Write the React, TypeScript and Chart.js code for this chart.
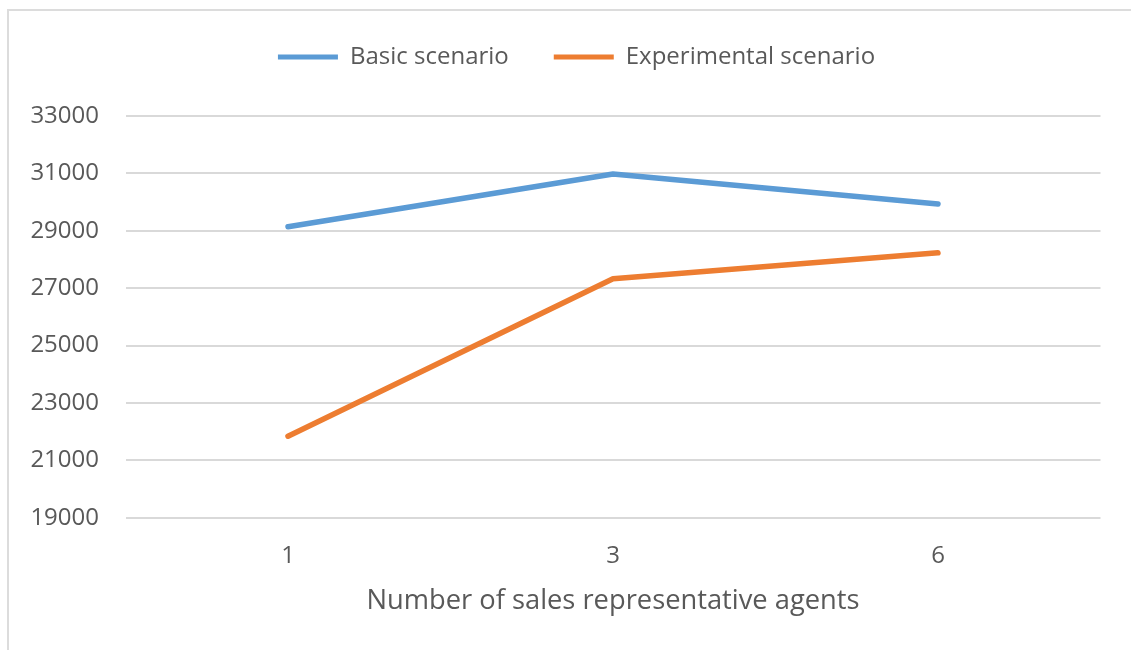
import React, { useEffect, useRef } from "react";
import { Chart, registerables } from "chart.js";

Chart.register(...registerables);

const categories = ["1", "3", "6"];
const basicScenario = [29140, 30980, 29930];
const experimentalScenario = [21840, 27330, 28230];
const yMin = 19000;
const yMax = 33000;
const yStep = 2000;
const xTitle = "Number of sales representative agents";
const seriesNames = ["Basic scenario", "Experimental scenario"];

const FONT = "'Open Sans', 'Noto Sans', sans-serif";
const TEXT = "#595959";

export default function App() {
  const ref = useRef<HTMLCanvasElement | null>(null);

  useEffect(() => {
    if (!ref.current) return;
    const chart = new Chart(ref.current, {
      type: "line",
      data: {
        labels: categories,
        datasets: [
          {
            label: seriesNames[0],
            data: basicScenario,
            borderColor: "#5B9BD5",
            backgroundColor: "#5B9BD5",
            borderWidth: 5.5,
            pointRadius: 0,
            borderCapStyle: "round",
            borderJoinStyle: "round",
            tension: 0,
          },
          {
            label: seriesNames[1],
            data: experimentalScenario,
            borderColor: "#ED7D31",
            backgroundColor: "#ED7D31",
            borderWidth: 5.5,
            pointRadius: 0,
            borderCapStyle: "round",
            borderJoinStyle: "round",
            tension: 0,
          },
        ],
      },
      options: {
        animation: false,
        responsive: false,
        maintainAspectRatio: false,
        layout: { padding: { left: 22, right: 0, top: 0, bottom: 0 } },
        plugins: {
          tooltip: { enabled: false },
          legend: {
            position: "top",
            labels: {
              boxWidth: 60,
              boxHeight: 5,
              padding: 45,
              color: TEXT,
              font: { family: FONT, size: 24 },
              generateLabels: (c: any) => {
                const items = Chart.defaults.plugins.legend.labels.generateLabels(c);
                return items.map((it: any) => ({
                  ...it,
                  lineWidth: 0,
                  fillStyle: it.strokeStyle,
                }));
              },
            },
          },
          subtitle: {
            display: true,
            text: "",
            position: "top",
            weight: 500,
            font: { size: 10, lineHeight: 1 },
            padding: { top: 0, bottom: 27 },
          },
          title: {
            display: true,
            text: "",
            position: "right",
            font: { size: 10, lineHeight: 1 },
            padding: { top: 20.5, bottom: 0 },
          },
        },
        scales: {
          x: {
            offset: true,
            grid: { display: false, drawTicks: false },
            border: { display: false },
            ticks: {
              color: TEXT,
              font: { family: FONT, size: 24 },
              padding: 24,
            },
            title: {
              display: true,
              text: xTitle,
              color: TEXT,
              font: { family: FONT, size: 27.3 },
              padding: { top: 0, bottom: 32.6 },
            },
            afterFit: (s: any) => {
              s.height = 132.3;
            },
          },
          y: {
            min: yMin,
            max: yMax,
            ticks: {
              stepSize: yStep,
              color: TEXT,
              font: { family: FONT, size: 24 },
              padding: 26.5,
              callback: (v: any) => String(v),
            },
            grid: { color: "#d9d9d9", lineWidth: 2, drawTicks: false },
            border: { display: false },
            afterFit: (s: any) => {
              s.width = 103.5;
            },
          },
        },
      },
    });
    return () => chart.destroy();
  }, []);

  return (
    <div
      style={{
        position: "fixed",
        left: 0,
        top: 0,
        width: 1131,
        height: 650,
        overflow: "hidden",
        background: "#ffffff",
      }}
    >
      <div
        style={{
          position: "absolute",
          left: 7,
          top: 9,
          width: 1200,
          height: 700,
          border: "2px solid #dcdcdc",
          boxSizing: "border-box",
        }}
      />
      <canvas
        ref={ref}
        width={1131}
        height={650}
        style={{ position: "absolute", left: 0, top: 0, width: 1131, height: 650 }}
      />
    </div>
  );
}
